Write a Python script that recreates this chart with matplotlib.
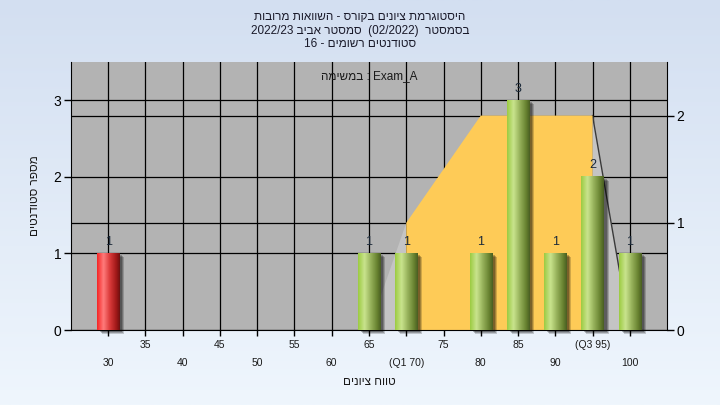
import re
import numpy as np
import matplotlib
matplotlib.use('Agg')
import matplotlib.pyplot as plt
import matplotlib.transforms as mtrans
from matplotlib.patches import Polygon, Rectangle
from matplotlib.colors import LinearSegmentedColormap

plt.rcParams['font.family'] = ['Liberation Sans', 'DejaVu Sans']

# data
scores = [30, 65, 70, 80, 85, 90, 95, 100]
counts = [1, 1, 1, 1, 3, 1, 2, 1]
failed = [True, False, False, False, False, False, False, False]

# box-plot shape on the right axis
box_x = [70, 70, 80, 95, 95]
box_y = [0, 1, 2, 2, 0]
lwhisk_x = [65, 70, 70]
lwhisk_y = [0, 1, 0]
rwhisk_x = [95, 95, 100]
rwhisk_y = [2, 0, 0]

major_ticks = [30, 40, 50, 60, 70, 80, 90, 100]
major_labels = ['30', '40', '50', '60', '(Q1 70)', '80', '90', '100']
minor_ticks = [35, 45, 55, 65, 75, 85, 95]
minor_labels = ['35', '45', '55', '65', '75', '85', '(Q3 95)']

title_lines = ['היסטוגרמת ציונים בקורס - השוואות מרובות',
               'בסמסטר  (02/2022)  סמסטר אביב 2022/23',
               'סטודנטים רשומים - 16']
xlabel = 'טווח ציונים'
ylabel = 'מספר סטודנטים'
task_word = 'במשימה'
task_name = 'Exam_A'


def rtl(s):
    # crude visual reordering for right-to-left text
    parts = re.findall(r'[A-Za-z0-9_/.]+|.', s)
    mirror = {'(': ')', ')': '('}
    return ''.join(mirror.get(p, p) for p in reversed(parts))


fig = plt.figure(figsize=(7.2, 4.05), dpi=100)

bg = fig.add_axes([0, 0, 1, 1], zorder=-10)
bg.imshow(np.linspace(0, 1, 256).reshape(-1, 1), aspect='auto', extent=[0, 1, 0, 1],
          cmap=LinearSegmentedColormap.from_list('bg', ['#d3dff1', '#eff6fd']))
bg.axis('off')

ax = fig.add_axes([0.0986, 0.185, 0.8278, 0.662])
ax2 = ax.twinx()
ax.set_facecolor('#b3b3b3')
ax.set_axisbelow(True)

ax.set_xlim(25, 105)
ax.set_ylim(0, 3.5)
ax2.set_ylim(0, 2.5)

# grid
ax.set_xticks(major_ticks)
ax.set_xticks(minor_ticks, minor=True)
ax.set_xticklabels(major_labels)
ax.set_xticklabels(minor_labels, minor=True)
ax.set_yticks([0, 1, 2, 3])
ax2.set_yticks([0, 1, 2])
ax.grid(True, which='both', axis='x', color='black', lw=0.9)
ax.grid(True, which='major', axis='y', color='black', lw=0.9)
rtrans = mtrans.blended_transform_factory(ax.transAxes, ax2.transData)
for v in ax2.get_yticks()[1:]:
    ax.plot([0, 1], [v, v], color='black', lw=0.9, transform=rtrans, zorder=0.6)

# box shape
ax.add_patch(Polygon(list(zip(lwhisk_x, lwhisk_y)), closed=True, fc='#c4c4c4', ec='none',
                     transform=ax2.transData, zorder=1.2))
ax.add_patch(Polygon(list(zip(rwhisk_x, rwhisk_y)), closed=True, fc='#c4c4c4', ec='none',
                     transform=ax2.transData, zorder=1.2))
ax.plot(rwhisk_x[:1] + rwhisk_x[2:], rwhisk_y[:1] + rwhisk_y[2:], color='#3a3a3a', lw=1,
        transform=ax2.transData, zorder=1.3)
ax.add_patch(Polygon(list(zip(box_x, box_y)), closed=True, fc='#fecb57', ec='none',
                     transform=ax2.transData, zorder=1.5))

# bars
green = LinearSegmentedColormap.from_list('g', [(0, '#9ccb42'), (0.28, '#c9e48e'), (0.55, '#98b35c'),
                                                (0.85, '#66802f'), (1, '#4a5e22')])
red = LinearSegmentedColormap.from_list('r', [(0, '#f52626'), (0.28, '#ff7c7c'), (0.55, '#dc3c3c'),
                                              (0.85, '#a01818'), (1, '#6e1010')])
rects = ax.bar(scores, counts, width=3, color='none', zorder=3)
grad = np.linspace(0, 1, 64).reshape(1, -1)
for r, f, n in zip(rects, failed, counts):
    x0, w, h = r.get_x(), r.get_width(), r.get_height()
    for dx, dy, a in [(5, -4, 0.18), (4, -3, 0.22), (3, -2, 0.25)]:
        off = mtrans.ScaledTranslation(dx / 100, dy / 100, fig.dpi_scale_trans)
        ax.add_patch(Rectangle((x0, 0), w, h, fc='black', ec='none', alpha=a,
                               transform=ax.transData + off, zorder=2.5, clip_on=False))
    ax.imshow(grad, cmap=red if f else green, extent=(x0, x0 + w, 0, h), aspect='auto',
              interpolation='bilinear', zorder=3)
    ax.annotate(str(n), (x0 + w / 2, h), xytext=(0, 4), textcoords='offset points',
                ha='center', va='bottom', fontsize=9, color='#1c2a3a', zorder=4)

ax.set_xlim(25, 105)
ax.set_ylim(0, 3.5)

ax.text(65, 3.32, rtl(task_word) + ' : ' + task_name, ha='center', va='center',
        fontsize=8.5, color='#1a1a1a')

# axes styling
for s in ['top', 'right']:
    ax.spines[s].set_visible(False)
for s in ['top', 'left', 'bottom']:
    ax2.spines[s].set_visible(False)
ax.spines['left'].set_color('black')
ax.spines['bottom'].set_color('black')
ax2.spines['right'].set_color('black')
ax.tick_params(axis='y', direction='out', length=5, width=1, labelsize=10, pad=2, colors='black')
ax2.tick_params(axis='y', direction='out', length=5, width=1, labelsize=10, pad=2, colors='black')
ax.tick_params(axis='x', which='both', direction='out', length=4, width=1, labelsize=7.5,
               labelcolor='#1a1a1a')
ax.tick_params(axis='x', which='major', pad=16)
ax.tick_params(axis='x', which='minor', pad=3)

ax.set_xlabel(rtl(xlabel), fontsize=8.5, color='#1a1a1a', labelpad=6)
ax.set_ylabel(rtl(ylabel), fontsize=8.5, color='#1a1a1a', labelpad=9)

fig.text(0.5, 0.972, '\n'.join(rtl(t) for t in title_lines), ha='center', va='top',
         fontsize=8.5, color='#1a1a2a', linespacing=1.15)

fig.savefig('out.png', dpi=100)
